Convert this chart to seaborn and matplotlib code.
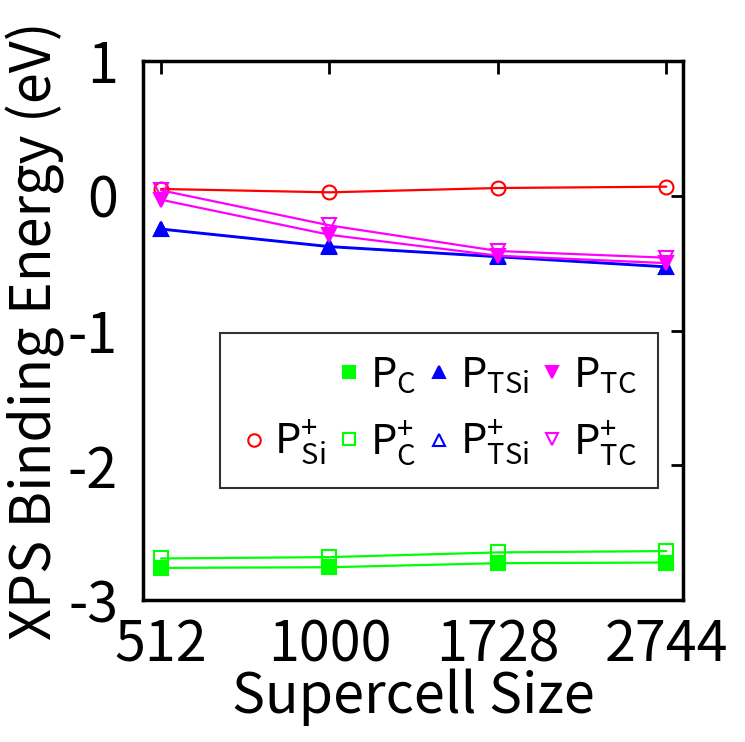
import matplotlib
matplotlib.use("Agg")
import matplotlib.pyplot as plt
from matplotlib.lines import Line2D
import seaborn as sns
import pandas as pd

sizes = ["512", "1000", "1728", "2744"]
p_si_plus = [0.05, 0.025, 0.057, 0.067]
p_c = [-2.76, -2.755, -2.725, -2.72]
p_c_plus = [-2.69, -2.68, -2.645, -2.635]
p_tsi = [-0.25, -0.38, -0.455, -0.53]
p_tsi_plus = [-0.245, -0.375, -0.45, -0.525]
p_tc = [-0.03, -0.29, -0.445, -0.50]
p_tc_plus = [0.04, -0.22, -0.41, -0.46]

sns.set_theme(style="white")
FONT = "Noto Sans CJK JP"
plt.rcParams["font.family"] = [FONT, "DejaVu Sans"]
plt.rcParams["mathtext.fontset"] = "custom"
plt.rcParams["mathtext.rm"] = FONT
plt.rcParams["mathtext.it"] = FONT
plt.rcParams["mathtext.bf"] = FONT
for k in ["text.color", "axes.labelcolor", "xtick.color", "ytick.color", "axes.edgecolor"]:
    plt.rcParams[k] = "black"

fig = plt.figure(figsize=(7.45, 7.42), dpi=100)
ax = fig.add_axes([0.192, 0.191, 0.725, 0.727])

x = list(range(len(sizes)))
series = [
    ("si+", p_si_plus, "#ff0000", "o", "none"),
    ("c", p_c, "#00ff00", "s", "#00ff00"),
    ("c+", p_c_plus, "#00ff00", "s", "none"),
    ("tsi", p_tsi, "#0000ff", "^", "#0000ff"),
    ("tsi+", p_tsi_plus, "#0000ff", "^", "none"),
    ("tc", p_tc, "#ff00ff", "v", "#ff00ff"),
    ("tc+", p_tc_plus, "#ff00ff", "v", "none"),
]
for name, vals, col, mk, fc in series:
    df = pd.DataFrame({"x": x, "y": vals})
    sns.lineplot(data=df, x="x", y="y", ax=ax, color=col, marker=mk,
                 markerfacecolor=fc, markeredgecolor=col, markersize=10,
                 markeredgewidth=1.5, linewidth=1.6, legend=False)

ax.set_xlim(-0.107, 3.1)
ax.set_ylim(-3, 1)
ax.set_xticks(x)
ax.set_xticklabels(sizes)
ax.set_yticks([-3, -2, -1, 0, 1])
ax.set_yticklabels(["-3", "-2", "-1", "0", "1"])
ax.tick_params(direction="in", length=9, width=2, labelsize=40, top=True, right=True,
               colors="black")
ax.tick_params(axis="x", pad=12)
ax.tick_params(axis="y", pad=18)
for s in ax.spines.values():
    s.set_linewidth(2.5)
    s.set_color("black")
ax.set_xlabel("Supercell Size", fontsize=40, labelpad=-4)
ax.set_ylabel("XPS Binding Energy (eV)", fontsize=40, labelpad=2)

def h(col, mk, fc):
    return Line2D([], [], color=col, marker=mk, markerfacecolor=fc, markeredgecolor=col,
                  markersize=9, markeredgewidth=1.5, linestyle="none")

handles = [Line2D([], [], linestyle="none", marker=None),
           h("#ff0000", "o", "none"),
           h("#00ff00", "s", "#00ff00"), h("#00ff00", "s", "none"),
           h("#0000ff", "^", "#0000ff"), h("#0000ff", "^", "none"),
           h("#ff00ff", "v", "#ff00ff"), h("#ff00ff", "v", "none")]
labels = ["", r"$\mathrm{P}_{\mathrm{Si}}^{+}$",
          r"$\mathrm{P}_{\mathrm{C}}$", r"$\mathrm{P}_{\mathrm{C}}^{+}$",
          r"$\mathrm{P}_{\mathrm{TSi}}$", r"$\mathrm{P}_{\mathrm{TSi}}^{+}$",
          r"$\mathrm{P}_{\mathrm{TC}}$", r"$\mathrm{P}_{\mathrm{TC}}^{+}$"]
leg = ax.legend(handles, labels, ncol=4, loc="lower left", bbox_to_anchor=(0.143, 0.208),
                fontsize=30, frameon=True, fancybox=False, edgecolor="black",
                handlelength=0.6, handletextpad=0.2, columnspacing=0.25,
                labelspacing=0.55, borderpad=0.5, borderaxespad=0)
leg.get_frame().set_linewidth(1.5)

fig.savefig("out.png", dpi=100, facecolor="white")
